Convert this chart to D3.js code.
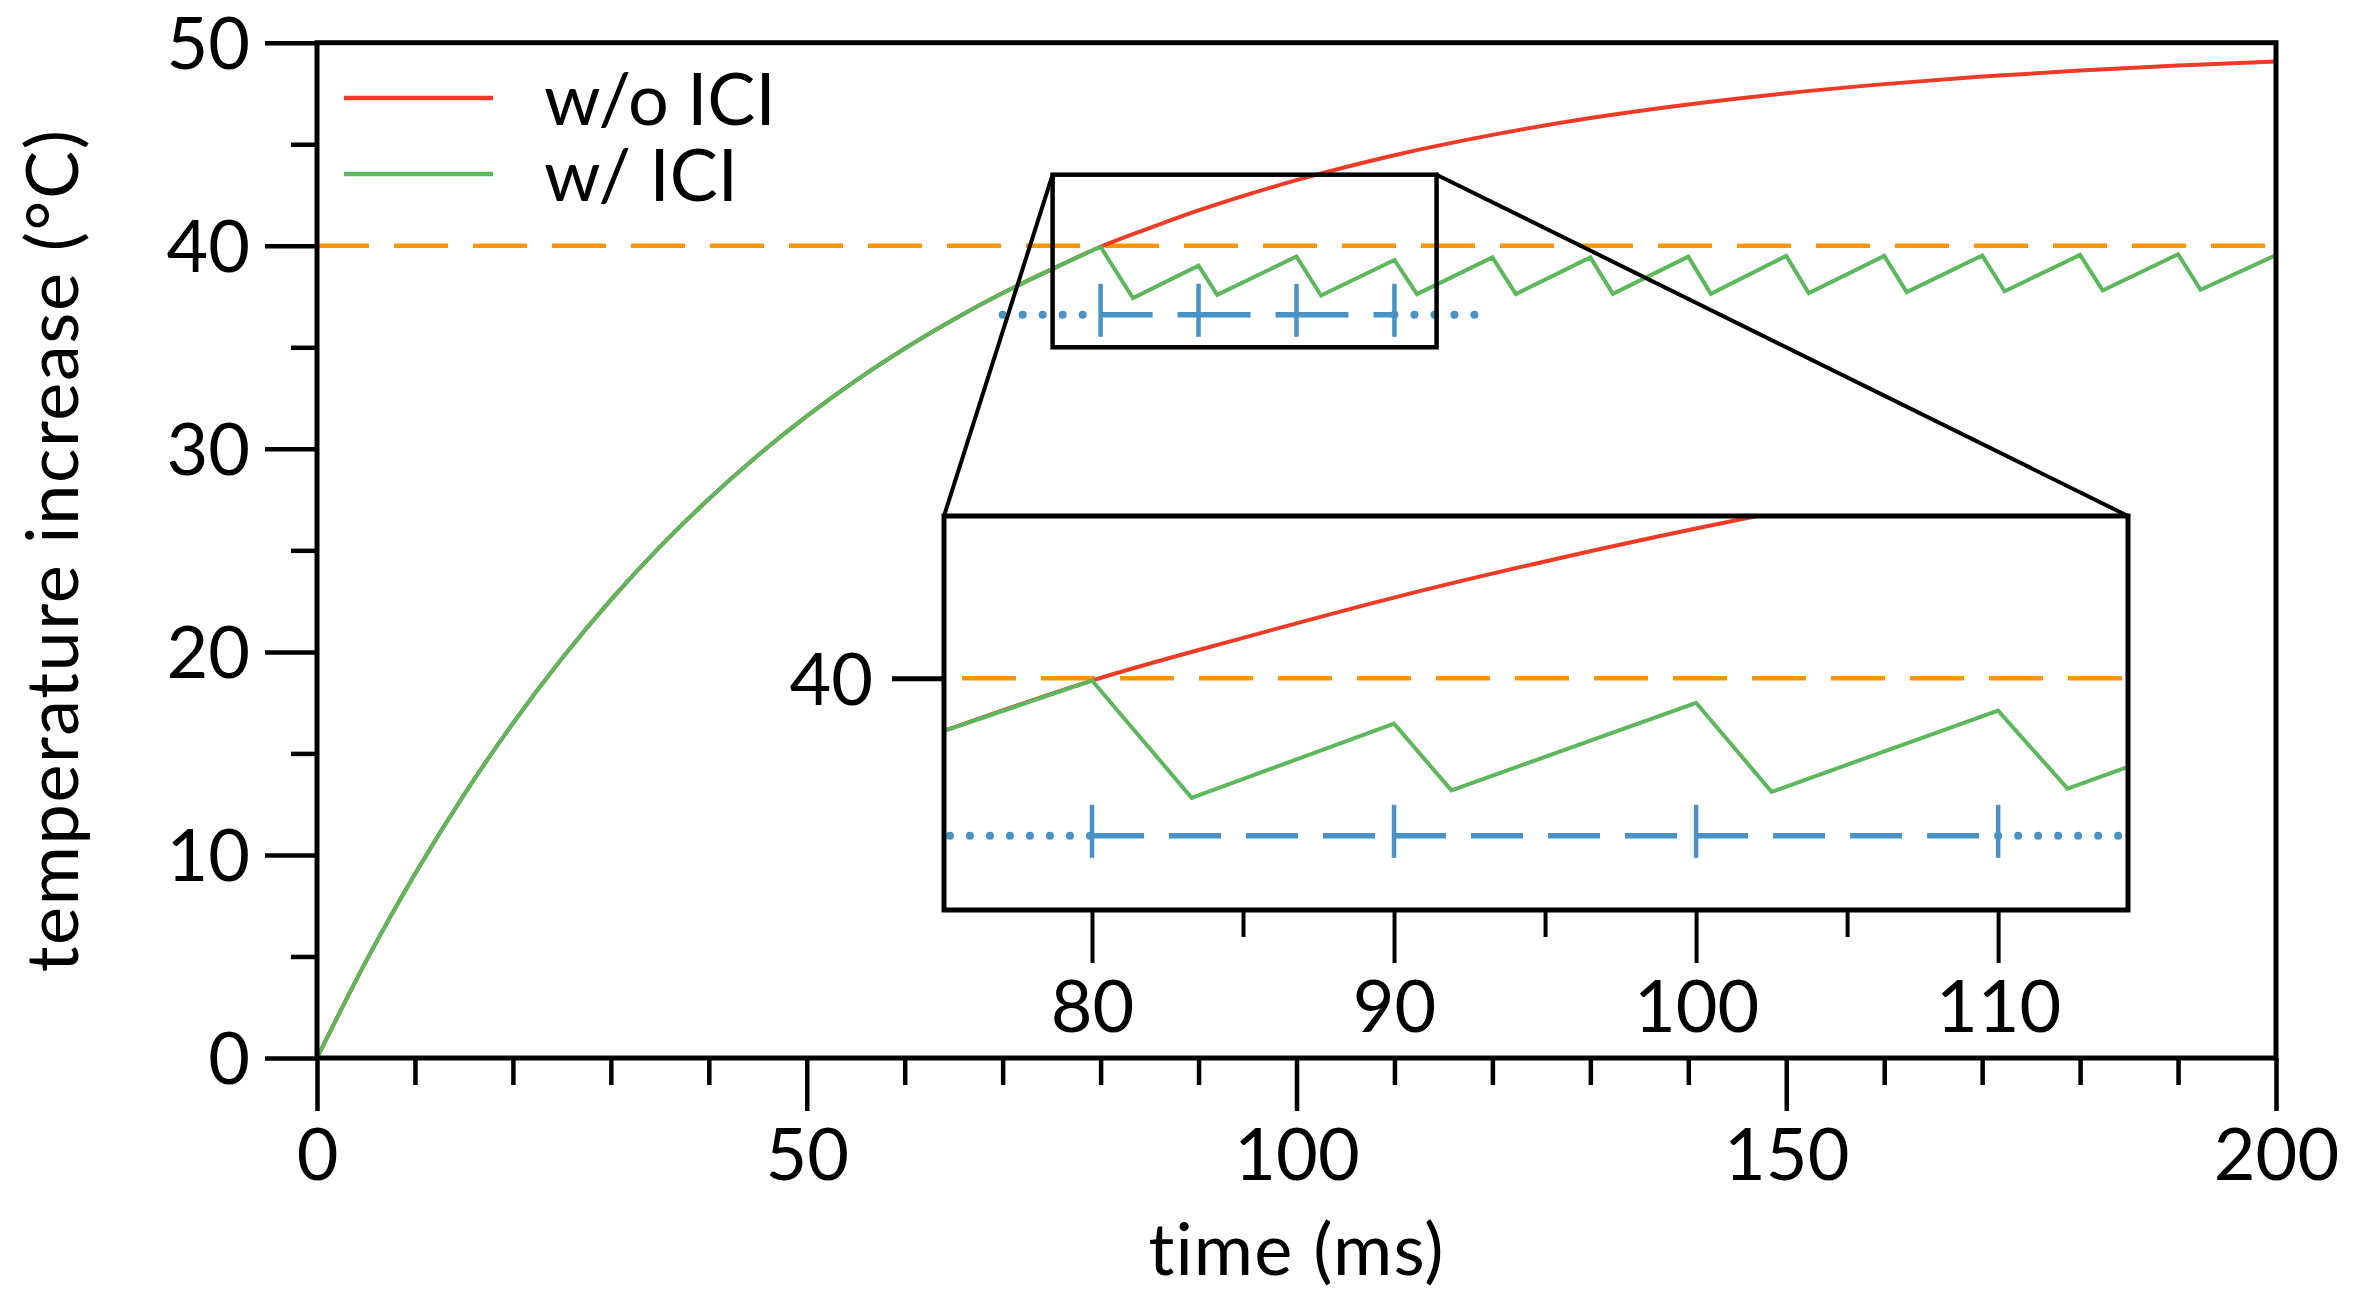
<!DOCTYPE html>
<html><head><meta charset="utf-8">
<script src="https://cdn.jsdelivr.net/npm/d3@7"></script>
<style>
html,body{margin:0;padding:0;background:#fff;}
svg{display:block;}
text{font-family:Lato,"Open Sans",sans-serif;fill:#000;}
</style></head><body>
<svg id="chart" width="2356" height="1291"></svg>
<script>
// ---------- data ----------
const riseTime  = [0, 5, 10, 15, 20, 25, 30, 35, 40, 45, 50, 55, 60, 65, 70, 75, 80, 85, 90, 95, 100, 110, 120, 130, 140, 150, 160, 170, 180, 190, 200];
const noIciTemp = [0, 4.76, 9.06, 12.96, 16.48, 19.67, 22.56, 25.17, 27.53, 29.67, 31.61, 33.36, 34.94, 36.37, 37.67, 38.84, 39.95, 40.87, 41.74, 42.52, 43.23, 44.46, 45.46, 46.29, 46.96, 47.51, 47.96, 48.33, 48.63, 48.88, 49.08];
const iciTime = [80, 83.3, 90, 91.9, 100, 102.5, 110, 112.3, 120, 122.4, 130, 132.3, 140, 142.3, 150, 152.3, 160, 162.3, 170, 172.3, 180, 182.3, 190, 192.3, 200];
const iciTemp = [39.95, 37.42, 39.02, 37.58, 39.47, 37.55, 39.30, 37.62, 39.43, 37.62, 39.43, 37.63, 39.46, 37.63, 39.50, 37.67, 39.50, 37.72, 39.52, 37.76, 39.55, 37.80, 39.58, 37.83, 39.54];
const thresholdTemp = 40;
const pulseTimes = [80, 90, 100, 110];
const pulseLevel = 36.6;
const pulseLeadIn = [70, 80];
const pulseLeadOut = [110, 118.2];
const xMajorTicks = [0, 50, 100, 150, 200];
const xMinorTicks = [10, 20, 30, 40, 60, 70, 80, 90, 110, 120, 130, 140, 160, 170, 180, 190];
const yMajorTicks = [0, 10, 20, 30, 40, 50];
const yMinorTicks = [5, 15, 25, 35, 45];
const insetMajorTicks = [80, 90, 100, 110];
const insetMinorTicks = [85, 95, 105];
const insetYTicks = [40];
const zoomTime = [75.1, 114.3];
const zoomTemp = [35.0, 43.5];
const seriesNames = ["w/o ICI", "w/ ICI"];
const xLabel = "time (ms)";
const yLabel = "temperature increase (°C)";

// ---------- setup ----------
const svg = d3.select("#chart");
const COL = {red:"#ef3b26", green:"#5cb85c", orange:"#ff9500", blue:"#4892c6"};
const FS = 72;
const FONT = "Lato, 'Open Sans', sans-serif";

const x = d3.scaleLinear().domain([0, 200]).range([317, 2276]);
const y = d3.scaleLinear().domain([0, 50]).range([1058, 42.7]);
const xi = d3.scaleLinear().domain(zoomTime).range([944, 2128]);
const yi = d3.scaleLinear().domain(zoomTemp).range([910, 516]);

const rise = riseTime.map((t, i) => [t, noIciTemp[i]]);
const ici = iciTime.map((t, i) => [t, iciTemp[i]]);

function drawSeries(g, sx, sy) {
  const smooth = d3.line().x(d => sx(d[0])).y(d => sy(d[1])).curve(d3.curveMonotoneX);
  const straight = d3.line().x(d => sx(d[0])).y(d => sy(d[1]));
  // threshold
  g.append("path").datum([[sx.domain()[0], thresholdTemp], [sx.domain()[1], thresholdTemp]])
    .attr("d", straight).attr("fill", "none").attr("stroke", COL.orange).attr("stroke-width", 4.5)
    .attr("stroke-dasharray", "54,25").attr("class", "thr");
  // w/o ICI
  g.append("path").datum(rise).attr("d", smooth).attr("fill", "none")
    .attr("stroke", COL.red).attr("stroke-width", 4).attr("stroke-linejoin", "round");
  // w/ ICI
  g.append("path").datum(rise.filter(d => d[0] <= iciTime[0])).attr("d", smooth).attr("fill", "none")
    .attr("stroke", COL.green).attr("stroke-width", 4).attr("stroke-linecap", "round");
  g.append("path").datum(ici).attr("d", straight).attr("fill", "none")
    .attr("stroke", COL.green).attr("stroke-width", 4).attr("stroke-linejoin", "miter").attr("stroke-linecap", "round");
  // pulse train
  const py = sy(pulseLevel);
  [pulseLeadIn, pulseLeadOut].forEach(s => {
    g.append("line").attr("x1", sx(s[0])).attr("x2", sx(s[1])).attr("y1", py).attr("y2", py)
      .attr("stroke", COL.blue).attr("stroke-width", 8).attr("stroke-linecap", "round")
      .attr("stroke-dasharray", "0,20");
  });
  for (let i = 0; i < pulseTimes.length - 1; i++) {
    g.append("line").attr("x1", sx(pulseTimes[i])).attr("x2", sx(pulseTimes[i + 1])).attr("y1", py).attr("y2", py)
      .attr("stroke", COL.blue).attr("stroke-width", 5.5).attr("stroke-dasharray", "52,25");
  }
  g.selectAll(null).data(pulseTimes).enter().append("line")
    .attr("x1", d => sx(d)).attr("x2", d => sx(d)).attr("y1", py - 31).attr("y2", py + 22)
    .attr("stroke", COL.blue).attr("stroke-width", 4.5);
}

// ---------- main plot ----------
const main = svg.append("g");
drawSeries(main, x, y);
main.select(".thr").attr("stroke-dashoffset", 2);

// axes
function styleAxis(g, sw) {
  g.select(".domain").remove();
  g.selectAll(".tick line").attr("stroke", "#000").attr("stroke-width", sw);
  g.attr("font-size", FS).attr("font-family", FONT);
  g.selectAll("text").style("font-size", FS + "px");
}
const gxMinor = svg.append("g").attr("transform", "translate(0,1058)")
  .call(d3.axisBottom(x).tickValues(xMinorTicks).tickSize(27).tickFormat(""));
styleAxis(gxMinor, 4.5);
const gx = svg.append("g").attr("transform", "translate(0,1058)")
  .call(d3.axisBottom(x).tickValues(xMajorTicks).tickSize(53).tickFormat(d3.format("d")));
styleAxis(gx, 4.5);
gx.selectAll("text").attr("y", 122).attr("dy", null);

const gyMinor = svg.append("g").attr("transform", "translate(317,0)")
  .call(d3.axisLeft(y).tickValues(yMinorTicks).tickSize(26).tickFormat(""));
styleAxis(gyMinor, 4.5);
const gy = svg.append("g").attr("transform", "translate(317,0)")
  .call(d3.axisLeft(y).tickValues(yMajorTicks).tickSize(52).tickFormat(d3.format("d")));
styleAxis(gy, 4.5);
gy.selectAll("text").attr("x", -67).attr("dy", "0.36em");

// frame
svg.append("rect").attr("x", x(0)).attr("y", y(50)).attr("width", x(200) - x(0)).attr("height", y(0) - y(50))
  .attr("fill", "none").attr("stroke", "#000").attr("stroke-width", 5);

// axis titles
svg.append("text").attr("x", (x(0) + x(200)) / 2).attr("y", 1275).attr("text-anchor", "middle")
  .style("font-size", FS + "px").style("letter-spacing", "1.2px").text(xLabel);
svg.append("text").attr("transform", `translate(78,${(y(0) + y(50)) / 2}) rotate(-90)`).attr("text-anchor", "middle")
  .style("font-size", FS + "px").style("letter-spacing", "1.6px").text(yLabel);

// legend
const legColors = [COL.red, COL.green];
const leg = svg.append("g");
seriesNames.forEach((n, i) => {
  const ly = 98 + i * 76;
  leg.append("line").attr("x1", 344).attr("x2", 493).attr("y1", ly).attr("y2", ly)
    .attr("stroke", legColors[i]).attr("stroke-width", 4.5);
  leg.append("text").attr("x", 544).attr("y", ly + 27).style("font-size", FS + "px").text(n);
});

// ---------- zoom box & connectors ----------
svg.append("rect").attr("x", x(zoomTime[0])).attr("y", y(zoomTemp[1]))
  .attr("width", x(zoomTime[1]) - x(zoomTime[0])).attr("height", y(zoomTemp[0]) - y(zoomTemp[1]))
  .attr("fill", "none").attr("stroke", "#000").attr("stroke-width", 4.5);
svg.append("line").attr("x1", x(zoomTime[0])).attr("y1", y(zoomTemp[1])).attr("x2", xi(zoomTime[0])).attr("y2", yi(zoomTemp[1]))
  .attr("stroke", "#000").attr("stroke-width", 4);
svg.append("line").attr("x1", x(zoomTime[1])).attr("y1", y(zoomTemp[1])).attr("x2", xi(zoomTime[1])).attr("y2", yi(zoomTemp[1]))
  .attr("stroke", "#000").attr("stroke-width", 4);

// ---------- inset ----------
svg.append("defs").append("clipPath").attr("id", "insetClip").append("rect")
  .attr("x", xi(zoomTime[0])).attr("y", yi(zoomTemp[1]))
  .attr("width", xi(zoomTime[1]) - xi(zoomTime[0])).attr("height", yi(zoomTemp[0]) - yi(zoomTemp[1]));
svg.append("rect").attr("x", xi(zoomTime[0])).attr("y", yi(zoomTemp[1]))
  .attr("width", xi(zoomTime[1]) - xi(zoomTime[0])).attr("height", yi(zoomTemp[0]) - yi(zoomTemp[1]))
  .attr("fill", "#fff");
const inset = svg.append("g").attr("clip-path", "url(#insetClip)");
drawSeries(inset, xi, yi);
inset.select(".thr").attr("stroke-dashoffset", 61);
svg.append("rect").attr("x", xi(zoomTime[0])).attr("y", yi(zoomTemp[1]))
  .attr("width", xi(zoomTime[1]) - xi(zoomTime[0])).attr("height", yi(zoomTemp[0]) - yi(zoomTemp[1]))
  .attr("fill", "none").attr("stroke", "#000").attr("stroke-width", 5);

const gixMinor = svg.append("g").attr("transform", "translate(0,910)")
  .call(d3.axisBottom(xi).tickValues(insetMinorTicks).tickSize(27).tickFormat(""));
styleAxis(gixMinor, 4);
const gix = svg.append("g").attr("transform", "translate(0,910)")
  .call(d3.axisBottom(xi).tickValues(insetMajorTicks).tickSize(53).tickFormat(d3.format("d")));
styleAxis(gix, 4);
gix.selectAll("text").attr("y", 122).attr("dy", null);
const giy = svg.append("g").attr("transform", "translate(944,0)")
  .call(d3.axisLeft(yi).tickValues(insetYTicks).tickSize(52).tickFormat(d3.format("d")));
styleAxis(giy, 5);
giy.selectAll("text").attr("x", -71).attr("dy", "0.36em");
</script>
</body></html>
